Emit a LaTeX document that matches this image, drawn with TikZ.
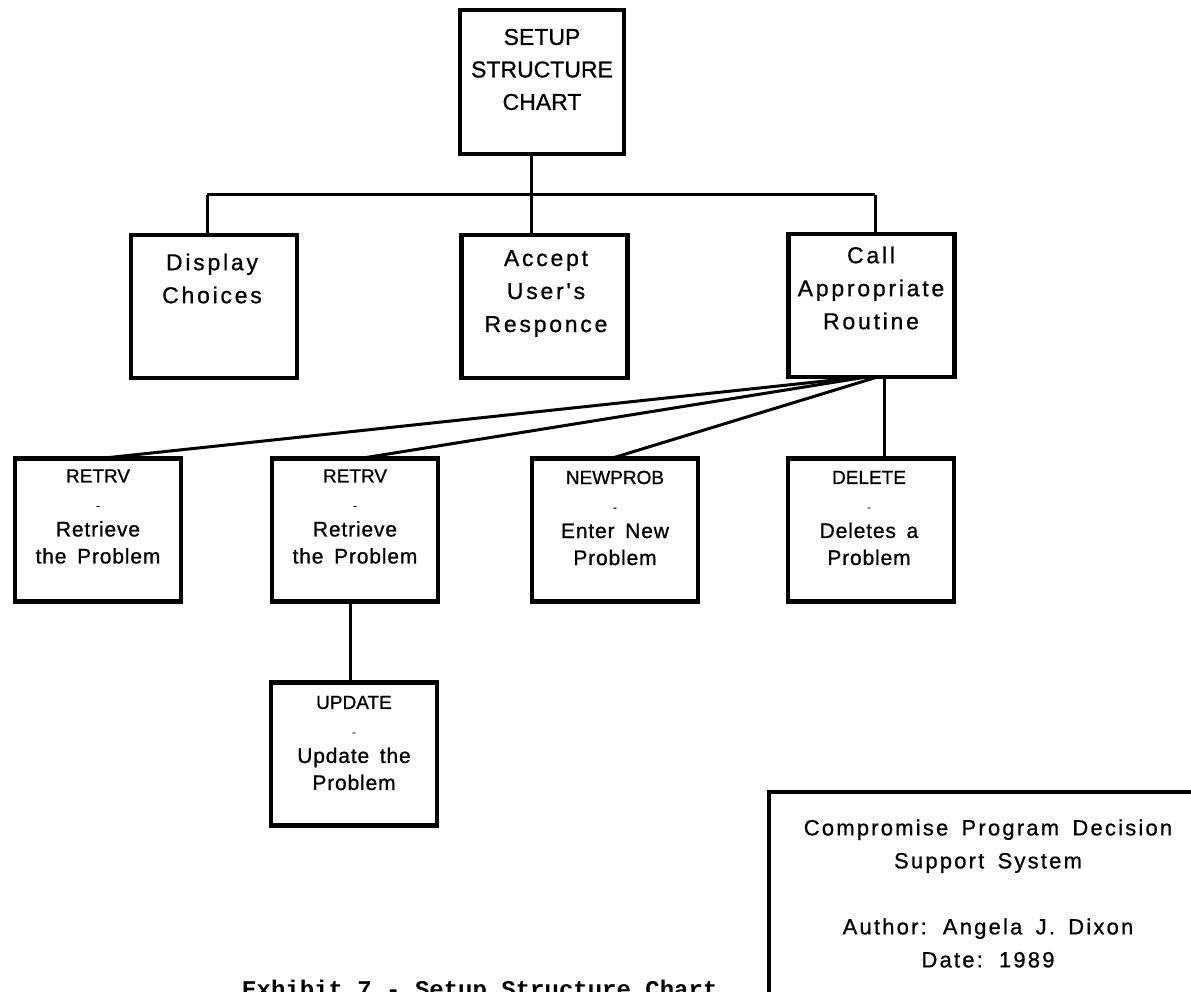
\documentclass[tikz,border=0pt]{standalone}
\usepackage{fontspec}
\setmainfont{Liberation Sans}
% tight face for the upper-case module names
\newfontfamily\namefont[FakeBold=0.8]{Liberation Sans}
% loosely tracked faces for the descriptive text
\newfontfamily\wordfont[LetterSpace=12,WordSpace=1.4,FakeBold=0.8]{Liberation Sans}
\newfontfamily\notefont[LetterSpace=4,WordSpace=1.6,FakeBold=0.8]{Liberation Sans}
\newfontfamily\infofont[LetterSpace=10,WordSpace=1.6,FakeBold=0.8]{Liberation Sans}
\newfontfamily\capfont{Liberation Mono}

\begin{document}
\begin{tikzpicture}[x=1pt,y=-1pt,
  box/.style={draw=black, line width=4.2pt, minimum width=166pt, minimum height=143pt,
              inner sep=0pt, outer sep=0pt},
  conn/.style={draw=black, line width=3pt},
  toptext/.style={font={\namefont\fontsize{23}{32.5}\selectfont}, align=center, inner sep=0pt},
  midtext/.style={font={\wordfont\fontsize{23}{33}\selectfont}, align=center, inner sep=0pt},
  lowtext/.style={font={\notefont\fontsize{21}{27}\selectfont}, align=center, inner sep=0pt},
  infotext/.style={font={\infofont\fontsize{22}{33}\selectfont}, align=center, inner sep=0pt}
]
\useasboundingbox (0,0) rectangle (1191,992);
\clip (0,0) rectangle (1191,992);
\fill[white] (0,0) rectangle (1191,992);

\newcommand{\modname}[1]{{\namefont\fontsize{19}{27}\selectfont #1}}
\newcommand{\tick}{{\fontsize{11}{27}\selectfont -}}

% boxes
\node[box, minimum width=164pt, minimum height=144pt] (setup) at (542,82) {};
\node[box] (disp)    at (214,306.5) {};
\node[box] (accept)  at (544.5,306.5) {};
\node[box] (call)    at (871.5,305.5) {};
\node[box] (retrv1)  at (98,530) {};
\node[box] (retrv2)  at (355,530) {};
\node[box] (newprob) at (615,530) {};
\node[box] (delete)  at (871,530) {};
\node[box] (update)  at (354,754) {};
\node[box, minimum width=431pt, minimum height=218pt] (info) at (984.5,901) {};

% box texts
\node[toptext] (setup-t) at (542,69.5) {SETUP\\STRUCTURE\\CHART};
\node[midtext] (disp-t) at (212,278.5) {Display\\Choices};
\node[midtext] (accept-t) at (546,293.5) {Accept\\User's\\Responce};
\node[midtext] (call-t) at (871,288) {Call\\Appropriate\\Routine};
\node[lowtext] (retrv1-t) at (98,516.5) {\modname{RETRV}\\\tick\\Retrieve\\the Problem};
\node[lowtext] (retrv2-t) at (355,516.5) {\modname{RETRV}\\\tick\\Retrieve\\the Problem};
\node[lowtext] (newprob-t) at (615,518) {\modname{NEWPROB}\\\tick\\Enter New\\Problem};
\node[lowtext] (delete-t) at (869,518) {\modname{DELETE}\\\tick\\Deletes a\\Problem};
\node[lowtext] (update-t) at (354,743) {\modname{UPDATE}\\\tick\\Update the\\Problem};
\node[infotext] (info-t) at (988,893.5) {Compromise Program Decision\\Support System\\[33pt]Author: Angela J. Dixon\\Date: 1989};

% caption along the lower edge
\node[font={\capfont\bfseries\fontsize{24}{24}\selectfont}, anchor=base west, inner sep=0pt]
  (caption) at (242,997) {Exhibit 7 - Setup Structure Chart};

% tree connectors
\coordinate (jt) at (531,195);
\coordinate (bl) at (207,195);
\coordinate (br) at (875,195);
\draw[conn] (setup.south -| jt) -- (jt);
\draw[conn] (bl) -- (br);
\draw[conn] (bl) -- (bl |- disp.north);
\draw[conn] (jt) -- (jt |- accept.north);
\draw[conn] (br) -- (br |- call.north);

\draw[conn] ([xshift=-9pt]call.south) -- ([xshift=2pt]retrv1.north);
\draw[conn] ([xshift=-5pt]call.south) -- ([xshift=5pt]retrv2.north);
\draw[conn] ([xshift=6pt]call.south) -- ([xshift=-4pt]newprob.north);
\draw[conn] ([xshift=12.5pt]call.south) -- ([xshift=13pt]delete.north);
\draw[conn] ([xshift=-5pt]retrv2.south) -- ([xshift=-4pt]update.north);
\end{tikzpicture}
\end{document}
